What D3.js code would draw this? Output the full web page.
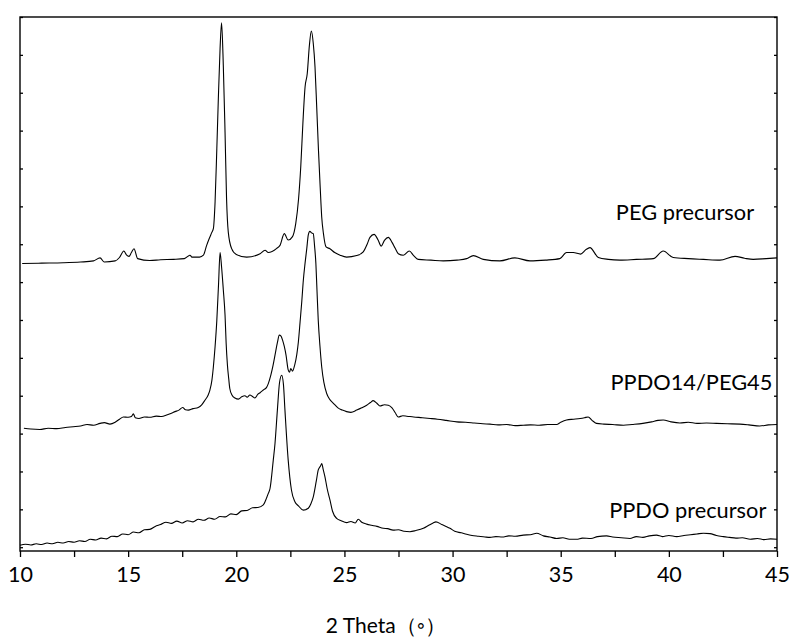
<!DOCTYPE html>
<html>
<head>
<meta charset="utf-8">
<script src="https://cdn.jsdelivr.net/npm/d3@7"></script>
<style>
  body { margin: 0; background: #fff; }
  text { font-family: Lato, "Open Sans", sans-serif; fill: #000; }
</style>
</head>
<body>
<div id="chart"></div>
<script>
// 2 theta (deg) and intensity (already offset per trace, arbitrary units)
const pegTheta = [10.1, 11.0, 12.0, 12.8, 13.4, 13.7, 13.9, 14.4, 14.6, 14.8, 14.92, 15.04, 15.15, 15.27, 15.44, 16.0, 16.5, 17.1, 17.6, 17.86, 17.95, 18.3, 18.48, 18.63, 18.75, 18.86, 18.94, 19.02, 19.1, 19.17, 19.25, 19.32, 19.4, 19.48, 19.55, 19.63, 19.78, 20.0, 20.48, 21.1, 21.33, 21.48, 21.87, 22.02, 22.22, 22.4, 22.6, 22.75, 22.88, 22.98, 23.08, 23.18, 23.28, 23.38, 23.47, 23.56, 23.64, 23.72, 23.8, 23.88, 23.95, 24.03, 24.15, 24.33, 24.55, 24.8, 25.1, 25.57, 25.87, 26.05, 26.18, 26.37, 26.55, 26.7, 26.85, 27.03, 27.2, 27.34, 27.49, 27.72, 28.0, 28.2, 28.41, 29.0, 29.57, 30.2, 30.65, 30.96, 31.42, 32.19, 32.88, 33.58, 34.3, 34.96, 35.27, 35.58, 35.92, 36.15, 36.35, 36.74, 37.2, 37.74, 38.5, 39.28, 39.74, 40.2, 40.9, 41.6, 42.36, 43.06, 43.5, 43.9, 44.5, 45.0];
const pegIntensity = [7.49, 7.50, 7.51, 7.53, 7.56, 7.64, 7.53, 7.56, 7.65, 7.82, 7.72, 7.68, 7.78, 7.88, 7.62, 7.57, 7.59, 7.60, 7.62, 7.71, 7.66, 7.66, 7.71, 7.97, 8.15, 8.30, 8.41, 9.12, 10.52, 11.84, 13.16, 13.85, 12.72, 10.96, 9.21, 8.32, 7.89, 7.73, 7.66, 7.75, 7.84, 7.78, 7.89, 7.97, 8.28, 8.11, 8.20, 8.55, 9.20, 10.04, 11.20, 12.15, 12.50, 13.25, 13.63, 13.30, 12.68, 11.60, 10.48, 9.50, 8.72, 8.28, 7.93, 7.88, 7.78, 7.71, 7.66, 7.70, 7.80, 8.00, 8.18, 8.26, 8.12, 7.95, 8.10, 8.18, 8.05, 7.90, 7.75, 7.71, 7.82, 7.70, 7.60, 7.58, 7.56, 7.58, 7.62, 7.70, 7.60, 7.56, 7.64, 7.56, 7.58, 7.62, 7.78, 7.78, 7.74, 7.85, 7.91, 7.65, 7.60, 7.58, 7.60, 7.62, 7.82, 7.65, 7.62, 7.60, 7.58, 7.68, 7.63, 7.60, 7.62, 7.64];

const blendTheta = [10.18, 10.5, 10.92, 11.3, 11.7, 12.1, 12.46, 12.8, 13.1, 13.4, 13.7, 13.9, 14.16, 14.4, 14.6, 14.78, 15.0, 15.15, 15.24, 15.33, 15.5, 15.75, 16.0, 16.3, 16.55, 16.78, 17.0, 17.17, 17.35, 17.52, 17.65, 17.78, 18.0, 18.24, 18.4, 18.55, 18.7, 18.78, 18.87, 18.94, 19.02, 19.1, 19.18, 19.25, 19.32, 19.4, 19.48, 19.53, 19.59, 19.65, 19.7, 19.8, 19.94, 20.1, 20.25, 20.4, 20.5, 20.63, 20.75, 20.86, 21.0, 21.1, 21.25, 21.4, 21.48, 21.6, 21.7, 21.79, 21.9, 21.99, 22.06, 22.14, 22.22, 22.3, 22.4, 22.46, 22.52, 22.6, 22.7, 22.8, 22.87, 22.95, 23.03, 23.1, 23.18, 23.26, 23.33, 23.4, 23.48, 23.56, 23.62, 23.68, 23.73, 23.79, 23.87, 23.95, 24.05, 24.18, 24.3, 24.49, 24.7, 24.9, 25.1, 25.3, 25.57, 25.8, 26.03, 26.2, 26.33, 26.5, 26.64, 26.85, 27.03, 27.2, 27.35, 27.49, 27.7, 27.88, 28.2, 28.6, 28.96, 29.3, 29.7, 30.2, 30.6, 31.0, 31.4, 31.73, 32.1, 32.5, 32.9, 33.27, 33.6, 34.0, 34.4, 34.81, 35.0, 35.27, 35.6, 35.9, 36.1, 36.27, 36.45, 36.65, 37.0, 37.4, 37.9, 38.3, 38.8, 39.2, 39.5, 39.74, 40.1, 40.51, 40.9, 41.3, 41.74, 42.2, 42.7, 43.29, 43.7, 44.2, 44.6, 45.0];
const blendIntensity = [3.14, 3.12, 3.11, 3.14, 3.13, 3.16, 3.18, 3.20, 3.24, 3.22, 3.27, 3.29, 3.25, 3.30, 3.38, 3.44, 3.43, 3.45, 3.52, 3.42, 3.40, 3.44, 3.43, 3.46, 3.45, 3.49, 3.54, 3.58, 3.62, 3.69, 3.63, 3.62, 3.66, 3.69, 3.76, 3.88, 4.02, 4.15, 4.40, 4.76, 5.30, 5.99, 6.95, 7.78, 7.40, 6.80, 6.13, 5.40, 4.81, 4.45, 4.19, 4.02, 3.94, 3.91, 3.97, 4.00, 3.96, 4.02, 3.98, 3.94, 4.04, 4.08, 4.15, 4.22, 4.32, 4.55, 4.80, 5.07, 5.40, 5.60, 5.58, 5.47, 5.30, 5.07, 4.68, 4.62, 4.72, 4.65, 4.81, 5.10, 5.42, 5.95, 6.50, 7.05, 7.50, 7.89, 8.25, 8.34, 8.30, 8.28, 7.95, 7.49, 6.80, 5.99, 5.30, 4.76, 4.35, 4.06, 3.92, 3.80, 3.68, 3.62, 3.58, 3.56, 3.62, 3.68, 3.75, 3.82, 3.87, 3.80, 3.73, 3.76, 3.75, 3.68, 3.55, 3.44, 3.47, 3.46, 3.44, 3.42, 3.40, 3.38, 3.35, 3.31, 3.30, 3.28, 3.26, 3.25, 3.23, 3.24, 3.21, 3.22, 3.23, 3.22, 3.24, 3.24, 3.30, 3.36, 3.38, 3.40, 3.42, 3.44, 3.35, 3.27, 3.25, 3.24, 3.22, 3.24, 3.27, 3.31, 3.35, 3.36, 3.31, 3.28, 3.30, 3.27, 3.28, 3.27, 3.26, 3.25, 3.23, 3.20, 3.23, 3.24];

const ppdoTheta = [10.0, 10.25, 10.5, 10.75, 11.0, 11.25, 11.5, 11.75, 12.0, 12.25, 12.5, 12.75, 13.0, 13.25, 13.5, 13.75, 14.0, 14.25, 14.5, 14.75, 15.0, 15.25, 15.5, 15.75, 16.0, 16.25, 16.5, 16.75, 17.0, 17.25, 17.5, 17.75, 18.0, 18.25, 18.5, 18.75, 19.0, 19.25, 19.5, 19.75, 20.0, 20.25, 20.5, 20.75, 21.0, 21.25, 21.4, 21.48, 21.56, 21.71, 21.79, 21.9, 22.0, 22.1, 22.18, 22.25, 22.4, 22.55, 22.71, 22.86, 23.1, 23.33, 23.45, 23.56, 23.7, 23.79, 23.9, 23.95, 24.02, 24.1, 24.2, 24.33, 24.45, 24.64, 24.85, 25.1, 25.3, 25.5, 25.64, 25.8, 26.03, 26.25, 26.5, 26.8, 27.0, 27.25, 27.5, 27.75, 28.03, 28.3, 28.65, 28.9, 29.1, 29.23, 29.5, 29.7, 29.88, 30.1, 30.4, 30.65, 30.9, 31.2, 31.5, 31.73, 32.0, 32.3, 32.6, 32.9, 33.27, 33.6, 33.89, 34.2, 34.5, 34.81, 35.1, 35.4, 35.74, 36.0, 36.4, 36.7, 37.12, 37.4, 37.8, 38.2, 38.5, 38.8, 39.1, 39.43, 39.7, 40.0, 40.36, 40.7, 41.0, 41.3, 41.6, 41.9, 42.2, 42.52, 42.8, 43.1, 43.4, 43.76, 44.1, 44.4, 44.7, 45.0];
const ppdoIntensity = [0.05, 0.08, 0.06, 0.09, 0.07, 0.11, 0.09, 0.13, 0.11, 0.15, 0.13, 0.17, 0.15, 0.21, 0.19, 0.24, 0.22, 0.29, 0.28, 0.35, 0.33, 0.40, 0.38, 0.46, 0.47, 0.55, 0.60, 0.66, 0.63, 0.69, 0.64, 0.70, 0.67, 0.74, 0.71, 0.77, 0.74, 0.81, 0.80, 0.88, 0.86, 0.96, 0.97, 1.04, 1.05, 1.12, 1.30, 1.42, 1.55, 2.30, 2.74, 3.62, 4.35, 4.54, 4.30, 3.62, 2.30, 1.51, 1.20, 1.10, 0.98, 1.03, 1.15, 1.33, 1.75, 2.04, 2.15, 2.21, 2.05, 1.86, 1.55, 1.25, 0.95, 0.76, 0.70, 0.65, 0.68, 0.64, 0.74, 0.66, 0.61, 0.58, 0.55, 0.50, 0.49, 0.45, 0.46, 0.42, 0.41, 0.44, 0.50, 0.58, 0.64, 0.67, 0.60, 0.55, 0.50, 0.42, 0.38, 0.34, 0.31, 0.29, 0.27, 0.26, 0.28, 0.27, 0.30, 0.29, 0.32, 0.33, 0.37, 0.30, 0.27, 0.23, 0.25, 0.21, 0.21, 0.24, 0.23, 0.28, 0.30, 0.27, 0.25, 0.23, 0.28, 0.26, 0.30, 0.32, 0.28, 0.31, 0.28, 0.31, 0.33, 0.35, 0.37, 0.36, 0.31, 0.28, 0.26, 0.24, 0.25, 0.21, 0.23, 0.20, 0.22, 0.21];

const seriesNames = ["PEG precursor", "PPDO14/PEG45", "PPDO precursor"];
const xTicks = [10, 12.5, 15, 17.5, 20, 22.5, 25, 27.5, 30, 32.5, 35, 37.5, 40, 42.5, 45];
const yTicks = [0, 1, 2, 3, 4, 5, 6, 7, 8, 9, 10, 11, 12, 13, 14];

const margin = {top: 17, right: 12, bottom: 86, left: 20};
const W = 789, H = 637;
const width = W - margin.left - margin.right;
const height = H - margin.top - margin.bottom;

const svg = d3.select("#chart").append("svg")
    .attr("width", W)
    .attr("height", H);
const g = svg.append("g")
    .attr("transform", `translate(${margin.left}, ${margin.top})`);

const x = d3.scaleLinear().domain([10, 45]).range([0, width]);
const y = d3.scaleLinear().domain([-0.1, 14]).range([height, 0]);

// traces; label anchor given in data units (2theta, intensity)
const traces = [
    {name: seriesNames[0], theta: pegTheta, val: pegIntensity, labelAt: [37.55, 8.63]},
    {name: seriesNames[1], theta: blendTheta, val: blendIntensity, labelAt: [37.3, 4.15]},
    {name: seriesNames[2], theta: ppdoTheta, val: ppdoIntensity, labelAt: [37.24, 0.77]}
];

const line = d3.line()
    .x(d => x(d[0]))
    .y(d => y(d[1]))
    .curve(d3.curveMonotoneX);

g.selectAll("path.trace")
    .data(traces)
    .enter().append("path")
    .attr("class", "trace")
    .attr("fill", "none")
    .attr("stroke", "#000")
    .attr("stroke-width", 1.1)
    .attr("d", d => line(d.theta.map((t, i) => [t, d.val[i]])));

g.selectAll("text.lbl")
    .data(traces)
    .enter().append("text")
    .attr("class", "lbl")
    .attr("x", d => x(d.labelAt[0]))
    .attr("y", d => y(d.labelAt[1]))
    .attr("font-size", 21.8)
    .text(d => d.name);

// bottom axis, ticks outside
const xAxis = g.append("g")
    .attr("transform", `translate(0, ${height})`)
    .call(d3.axisBottom(x).tickValues(xTicks).tickSize(6)
        .tickFormat(d => d % 5 === 0 ? d : ""));
xAxis.selectAll("text").attr("font-size", 21.5).attr("dy", "1.0em")
    .style("font-family", "Lato, sans-serif");

// left / right ticks inside, no labels
g.append("g")
    .call(d3.axisLeft(y).tickValues(yTicks).tickSize(-3).tickFormat(""));
g.append("g")
    .attr("transform", `translate(${width}, 0)`)
    .call(d3.axisRight(y).tickValues(yTicks).tickSize(-3).tickFormat(""));

g.selectAll(".domain").attr("stroke", "none");
g.selectAll(".tick line").attr("stroke", "#000").attr("stroke-width", 1.3);

// frame
g.append("rect")
    .attr("width", width)
    .attr("height", height)
    .attr("fill", "none")
    .attr("stroke", "#000")
    .attr("stroke-width", 1.4);

// axis title
svg.append("text")
    .attr("x", 386)
    .attr("y", 633)
    .attr("text-anchor", "middle")
    .attr("font-size", 21)
    .text("2 Theta（◦）");
</script>
</body>
</html>
